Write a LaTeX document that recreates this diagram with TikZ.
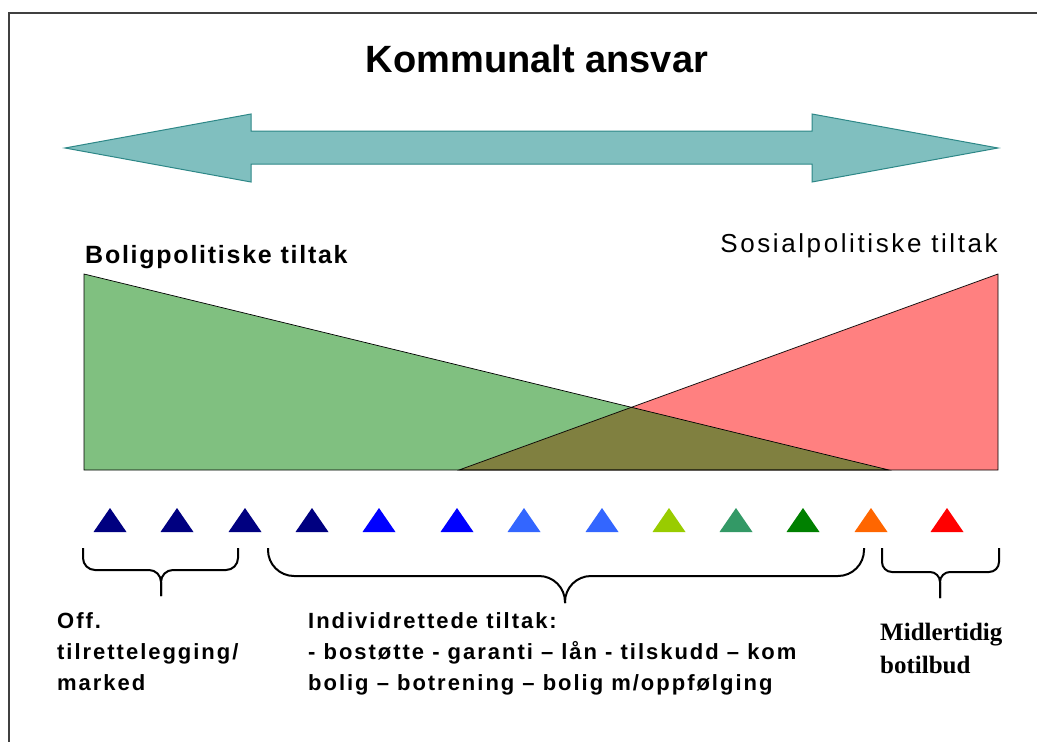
\documentclass[tikz,border=0pt]{standalone}
\usepackage{fontspec}
\setmainfont{Liberation Sans}
\newfontfamily\serifface{Liberation Serif}
\newfontfamily\trackedsans[LetterSpace=9]{Liberation Sans}
\newfontfamily\widesans[LetterSpace=7]{Liberation Sans}
\newfontfamily\widersans[LetterSpace=10]{Liberation Sans}
\usepackage{tikz}
\usetikzlibrary{positioning}
\definecolor{arrowfill}{RGB}{128,191,191}
\definecolor{arrowline}{RGB}{45,135,135}
\definecolor{boliggreen}{RGB}{128,192,128}
\definecolor{sosialred}{RGB}{255,128,128}
\definecolor{overlapolive}{RGB}{128,128,64}
\definecolor{navymark}{RGB}{0,0,128}
\definecolor{bluemark}{RGB}{0,0,255}
\definecolor{skymark}{RGB}{51,102,255}
\definecolor{limemark}{RGB}{153,204,0}
\definecolor{seamark}{RGB}{51,153,102}
\definecolor{greenmark}{RGB}{0,128,0}
\definecolor{orangemark}{RGB}{255,102,0}
\definecolor{redmark}{RGB}{255,0,0}
\tikzstyle{frameline} = [line width=1.5pt, black!75]
\tikzstyle{heading} = [inner sep=0pt, anchor=base, font=\bfseries\fontsize{38}{42}\selectfont]
\tikzstyle{sidelabel} = [inner sep=0pt, anchor=base west]
\tikzstyle{bracelabel} = [inner sep=0pt, align=left, anchor=base west]
\tikzstyle{wedge} = [draw=black, line width=0.7pt]
\tikzstyle{brace} = [line width=2pt]

\begin{document}
\begin{tikzpicture}[x=1pt, y=-1pt]
    \useasboundingbox (0,0) rectangle (1037,742);

    % Frame
    \draw[frameline] (9,742) -- (9,13) -- (1037,13);

    % Title
    \node[heading] (title) at (537,72) {Kommunalt ansvar};

    % Double arrow
    \draw[fill=arrowfill, draw=arrowline, line width=1pt, line join=miter]
        (65,148) -- (251,114) -- (251,131) -- (812,131) -- (812,114) -- (998,148)
        -- (812,182) -- (812,164) -- (251,164) -- (251,182) -- cycle;

    % Side labels
    \node[sidelabel] (bolig) at (85,263)
        {\widesans\bfseries\fontsize{25}{30}\selectfont Boligpolitiske tiltak};
    \node[sidelabel, anchor=base east] (sosial) at (998,252)
        {\widersans\fontsize{26}{30}\selectfont Sosialpolitiske tiltak};

    % Wedges
    \fill[boliggreen] (84,274) -- (84,470) -- (889,470) -- cycle;
    \fill[sosialred] (998,274) -- (998,470) -- (459,470) -- cycle;
    \fill[overlapolive] (459,470) -- (631.4,407.3) -- (889,470) -- cycle;
    \draw[wedge] (84,274) -- (84,470) -- (889,470) -- cycle;
    \draw[wedge] (998,274) -- (998,470) -- (459,470) -- cycle;

    % Markers
    \foreach \x/\c in {110/navymark, 177/navymark, 245/navymark, 312/navymark,
                       379/bluemark, 457/bluemark, 524/skymark, 602/skymark,
                       669/limemark, 736/seamark, 803/greenmark, 871/orangemark,
                       947/redmark}
        \fill[\c] (\x-16.5,532) -- (\x+16.5,532) -- (\x,508) -- cycle;

    % Braces
    \draw[brace, rounded corners=12pt] (83,548) -- (83,570) -- (161,570) -- (161,596);
    \draw[brace, rounded corners=12pt] (238,548) -- (238,570) -- (161,570) -- (161,596);
    \draw[brace, rounded corners=26pt] (268,548) -- (268,576) -- (565,576) -- (565,603);
    \draw[brace, rounded corners=26pt] (864,548) -- (864,576) -- (565,576) -- (565,603);
    \draw[brace, rounded corners=10pt] (882,548) -- (882,572) -- (940,572) -- (940,598);
    \draw[brace, rounded corners=10pt] (999,548) -- (999,572) -- (940,572) -- (940,598);

    % Brace labels
    \node[bracelabel, font=\trackedsans\bfseries\fontsize{22}{31}\selectfont] (offlabel) at (57,690)
        {Off.\\tilrettelegging/\\marked};
    \node[bracelabel, font=\trackedsans\bfseries\fontsize{22}{31}\selectfont] (indlabel) at (308,690)
        {Individrettede tiltak:\\- bostøtte - garanti – lån - tilskudd – kom\\bolig – botrening – bolig m/oppfølging};
    \node[bracelabel, font=\serifface\bfseries\fontsize{25}{33}\selectfont] (midlabel) at (880,673)
        {Midlertidig\\botilbud};
\end{tikzpicture}
\end{document}
